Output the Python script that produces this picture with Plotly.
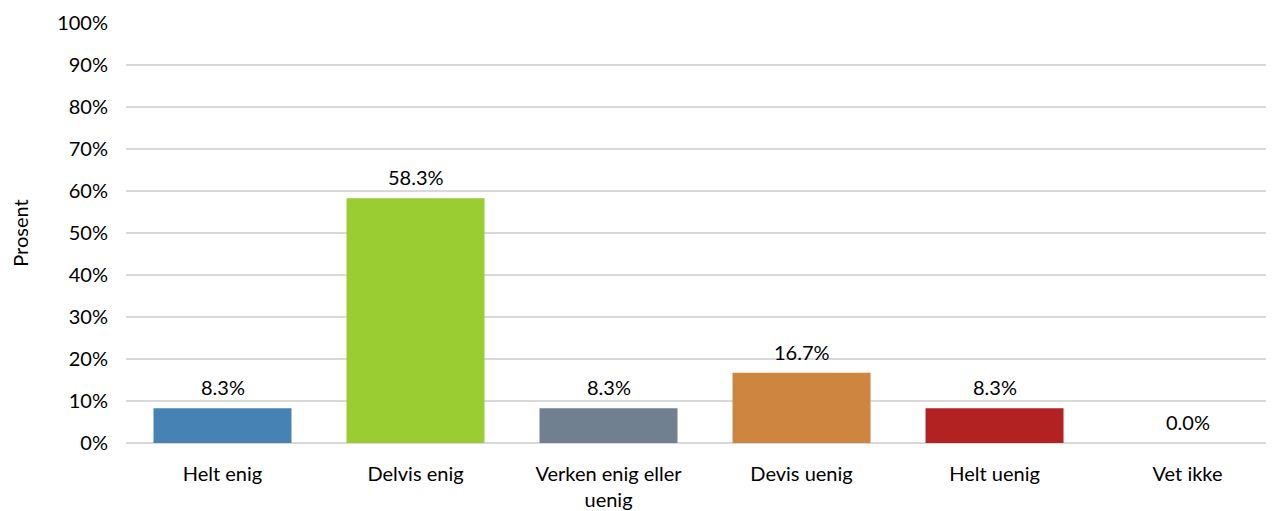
import plotly.graph_objects as go

categories = ["Helt enig", "Delvis enig", "Verken enig eller<br>uenig", "Devis uenig", "Helt uenig", "Vet ikke"]
values = [8.3, 58.3, 8.3, 16.7, 8.3, 0.0]
colors = ["#4682B4", "#9ACD32", "#708090", "#CD853F", "#B22222", "#808080"]
tick_vals = [0, 10, 20, 30, 40, 50, 60, 70, 80, 90, 100]
tick_text = [f"{v}%" for v in tick_vals]

FONT = "Lato, Carlito, Calibri, sans-serif"
FS = 20

fig = go.Figure(go.Bar(
    x=list(range(len(categories))),
    y=values,
    marker=dict(color=colors, line=dict(width=0)),
    width=0.715,
    hoverinfo="skip",
))

for i, v in enumerate(values):
    fig.add_annotation(
        x=i, y=v, xref="x", yref="y", text=f"{v:.1f}%", showarrow=False,
        yanchor="bottom", yshift=7, font=dict(size=FS, color="#000000", family=FONT),
    )

fig.update_layout(
    width=1266, height=503,
    margin=dict(l=118, r=0, t=15, b=68),
    paper_bgcolor="white", plot_bgcolor="white",
    showlegend=False,
    font=dict(family=FONT, size=FS, color="#000000"),
)
fig.update_xaxes(
    tickmode="array", tickvals=list(range(len(categories))), ticktext=categories,
    range=[-0.5, 5.448], showgrid=False, zeroline=False, showline=False,
    ticks="outside", ticklen=13, tickcolor="rgba(0,0,0,0)", tickfont=dict(size=FS),
    automargin=False,
)
fig.update_yaxes(
    range=[0, 100], tickmode="array", tickvals=tick_vals, ticktext=tick_text,
    showgrid=True, gridcolor="#d9d9d9", gridwidth=1.5, zeroline=True,
    zerolinecolor="#d9d9d9", zerolinewidth=1.5, showline=False,
    ticks="outside", ticklen=13, tickcolor="rgba(0,0,0,0)", tickfont=dict(size=FS),
    title=dict(text="Prosent", font=dict(size=FS), standoff=30),
    automargin=False,
)
fig.write_html("out.html")
